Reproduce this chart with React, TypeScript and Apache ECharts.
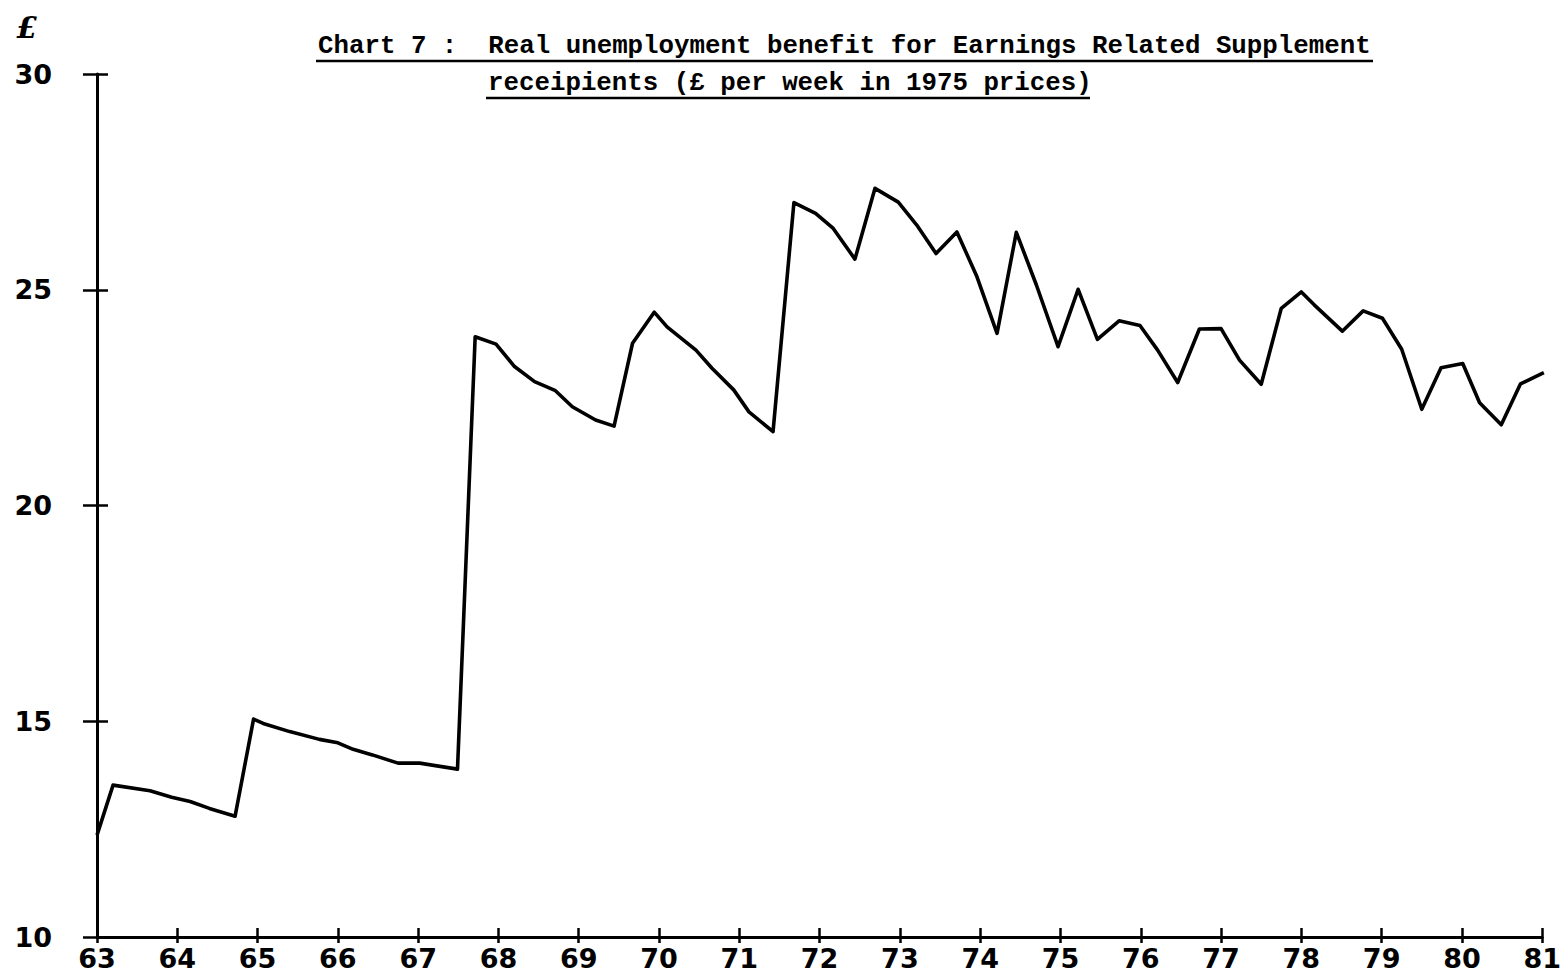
import React, { useEffect, useRef } from "react";
import * as echarts from "echarts";

// Time (year, two-digit) of each plotted observation
const years: number[] = [
  63.0, 63.2, 63.66, 63.93, 64.16, 64.4, 64.72, 64.95, 65.07, 65.4, 65.77, 66.0,
  66.19, 66.43, 66.75, 67.02, 67.49, 67.71, 67.97, 68.2, 68.45, 68.71, 68.92,
  69.21, 69.44, 69.67, 69.94, 70.1, 70.46, 70.66, 70.93, 71.12, 71.42, 71.68,
  71.95, 72.17, 72.44, 72.69, 72.98, 73.21, 73.45, 73.71, 73.96, 74.21, 74.45,
  74.7, 74.97, 75.22, 75.46, 75.73, 75.99, 76.21, 76.46, 76.73, 77.0, 77.23,
  77.5, 77.75, 78.0, 78.16, 78.51, 78.77, 79.01, 79.25, 79.5, 79.74, 80.01,
  80.22, 80.49, 80.73, 81.02,
];

// Real benefit, £ per week in 1975 prices
const benefit: number[] = [
  12.36, 13.52, 13.39, 13.24, 13.14, 12.98, 12.8, 15.05, 14.95, 14.76, 14.58,
  14.5, 14.35, 14.22, 14.03, 14.03, 13.89, 23.91, 23.74, 23.22, 22.87, 22.66,
  22.29, 21.98, 21.84, 23.76, 24.48, 24.14, 23.6, 23.18, 22.68, 22.17, 21.71,
  27.02, 26.77, 26.42, 25.71, 27.35, 27.03, 26.5, 25.84, 26.34, 25.3, 23.99,
  26.33, 25.11, 23.68, 25.01, 23.85, 24.28, 24.17, 23.6, 22.85, 24.09, 24.1,
  23.37, 22.81, 24.57, 24.95, 24.65, 24.04, 24.51, 24.34, 23.62, 22.23, 23.19,
  23.29, 22.38, 21.87, 22.82, 23.08,
];

const yTicks: number[] = [10, 15, 20, 25, 30];
const xMin = 63;
const xMax = 81;

const titleLine1 = "Chart 7 :  Real unemployment benefit for Earnings Related Supplement";
const titleLine2 = "receipients (£ per week in 1975 prices)";

export default function App() {
  const ref = useRef<HTMLDivElement>(null);

  useEffect(() => {
    if (!ref.current) return;
    const chart = echarts.init(ref.current, undefined, { renderer: "svg" });
    const data = years.map((x, i) => [x, benefit[i]]);
    const labelStyle = {
      color: "#000",
      fontFamily: "DejaVu Sans",
      fontWeight: "bold" as const,
      fontSize: 27,
    };
    const axisLine = { show: true, lineStyle: { color: "#000", width: 3 } };
    chart.setOption({
      animation: false,
      backgroundColor: "#fff",
      grid: { left: 97, right: 19, top: 74, bottom: 36, containLabel: false },
      xAxis: [
        {
          type: "value",
          min: xMin,
          max: xMax,
          interval: 1,
          position: "bottom",
          axisLine,
          axisTick: { show: true, inside: false, length: 6, lineStyle: { color: "#000", width: 2.5 } },
          axisLabel: { ...labelStyle, margin: 8, formatter: (v: number) => String(v) },
          splitLine: { show: false },
        },
        {
          type: "value",
          min: xMin,
          max: xMax,
          interval: 1,
          position: "bottom",
          axisLine: { show: false },
          axisTick: { show: true, inside: true, length: 9, lineStyle: { color: "#000", width: 2.5 } },
          axisLabel: { show: false },
          splitLine: { show: false },
        },
      ],
      yAxis: [
        {
          type: "value",
          min: yTicks[0],
          max: yTicks[yTicks.length - 1],
          interval: 5,
          position: "left",
          axisLine,
          axisTick: { show: true, inside: false, length: 14, lineStyle: { color: "#000", width: 2.5 } },
          axisLabel: { ...labelStyle, margin: 45 },
          splitLine: { show: false },
        },
        {
          type: "value",
          min: yTicks[0],
          max: yTicks[yTicks.length - 1],
          interval: 5,
          position: "left",
          axisLine: { show: false },
          axisTick: { show: true, inside: true, length: 11, lineStyle: { color: "#000", width: 2.5 } },
          axisLabel: { show: false },
          splitLine: { show: false },
        },
      ],
      series: [
        {
          type: "line",
          data,
          xAxisIndex: 0,
          yAxisIndex: 0,
          symbol: "none",
          lineStyle: { color: "#000", width: 3.6, join: "round" },
          silent: true,
        },
      ],
      graphic: [
        {
          type: "text",
          x: 27,
          y: 27,
          style: {
            text: "£",
            font: 'bold italic 30px "DejaVu Serif"',
            fill: "#000",
            textAlign: "center",
            textVerticalAlign: "middle",
          },
        },
        {
          type: "text",
          x: 318,
          y: 46,
          style: {
            text: titleLine1,
            font: 'bold 25.8px "Liberation Mono"',
            fill: "#000",
            textAlign: "left",
            textVerticalAlign: "middle",
          },
        },
        {
          type: "text",
          x: 488,
          y: 83,
          style: {
            text: titleLine2,
            font: 'bold 25.8px "Liberation Mono"',
            fill: "#000",
            textAlign: "left",
            textVerticalAlign: "middle",
          },
        },
        {
          type: "line",
          shape: { x1: 316, y1: 61, x2: 1373, y2: 61 },
          style: { stroke: "#000", lineWidth: 2.5 },
        },
        {
          type: "line",
          shape: { x1: 486, y1: 98, x2: 1090, y2: 98 },
          style: { stroke: "#000", lineWidth: 2.5 },
        },
      ],
    });
    return () => chart.dispose();
  }, []);

  return (
    <div
      ref={ref}
      style={{ position: "fixed", left: 0, top: 0, width: 1564, height: 973, background: "#fff" }}
    />
  );
}
